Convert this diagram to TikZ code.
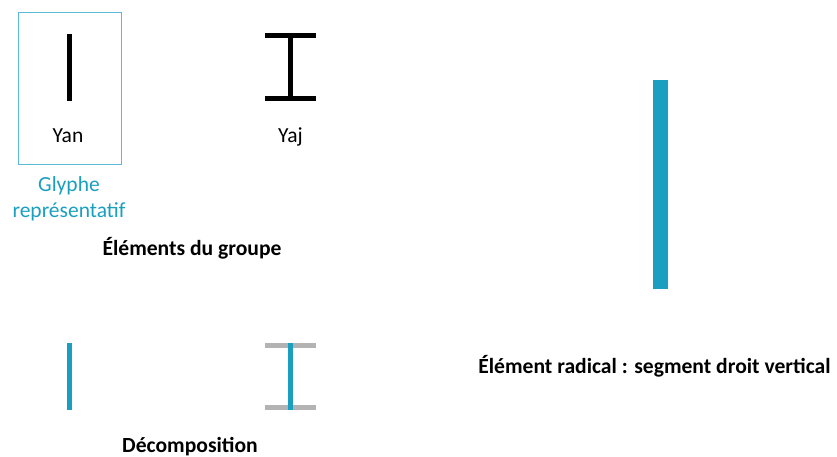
\documentclass[tikz,border=0pt]{standalone}
\usepackage{fontspec}
\setmainfont{Carlito}
\usepackage{tikz}
\usetikzlibrary{positioning}
\definecolor{radical}{HTML}{1a9fc0}
\definecolor{frame}{HTML}{5cbad6}
\definecolor{rest}{HTML}{b3b3b3}

\begin{document}
\begin{tikzpicture}[
  x=1pt, y=-1pt,
  font=\fontsize{21.5}{25}\selectfont,
  lab/.style={anchor=base, inner sep=0pt},
  heading/.style={lab, font=\fontsize{21.6}{25}\selectfont\bfseries},
  ink/.style={line width=5pt, draw=black},
  seg/.style={line width=5pt, draw=radical},
  grey/.style={line width=5pt, draw=rest},
]
\useasboundingbox (0,0) rectangle (837,457);
% group elements
\draw[frame, line width=1pt] (18,13) rectangle (121,165);
\draw[ink] (69,34) -- (69,101);
\node[lab] (yan) at (68,143) {Yan};
\draw[ink] (265,35.5) -- (316,35.5);
\draw[ink] (265,98.5) -- (316,98.5);
\draw[ink] (290.5,35.5) -- (290.5,98.5);
\node[lab] (yaj) at (290.5,143) {Yaj};
\node[lab, text=radical, align=center] (rep) at (69,217) {Glyphe\\représentatif};
\node[heading] (group) at (192,255) {Éléments du groupe};
% decomposition
\draw[seg] (69,343) -- (69,410);
\draw[grey] (265,345.5) -- (316,345.5);
\draw[grey] (265,407.5) -- (316,407.5);
\draw[seg] (290.5,343) -- (290.5,410);
\node[heading] (decomp) at (190,452) {Décomposition};
% radical element
\fill[radical] (653,80) rectangle (668,289);
\node[heading] (rad) at (654.5,373) {Élément radical : segment droit vertical};
\end{tikzpicture}
\end{document}
